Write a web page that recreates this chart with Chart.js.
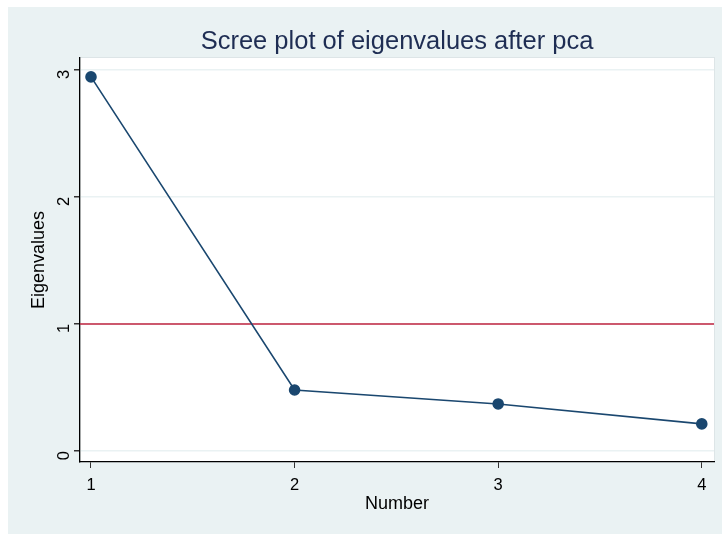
<!DOCTYPE html>
<html>
<head>
<meta charset="utf-8">
<script src="https://cdn.jsdelivr.net/npm/chart.js@4/dist/chart.umd.min.js"></script>
<style>
  html, body { margin: 0; padding: 0; background: #ffffff; }
  canvas { display: block; }
</style>
</head>
<body>
<canvas id="myChart" width="722" height="537"></canvas>
<script>
// data
var components = [1, 2, 3, 4];
var eigenvalues = [2.945, 0.48, 0.37, 0.213];
var xTicks = [1, 2, 3, 4];
var yTicks = [0, 1, 2, 3];
var refLine = 1;
var chartTitle = 'Scree plot of eigenvalues after pca';

var navy = '#1a476f';
var gridColor = '#eaf2f3';

// background: outer blue-gray box, white plot region
var backgroundPlugin = {
    id: 'bg',
    beforeDraw: function(chart) {
        var ctx = chart.ctx;
        var a = chart.chartArea;
        ctx.save();
        ctx.fillStyle = '#ffffff';
        ctx.fillRect(0, 0, chart.width, chart.height);
        ctx.fillStyle = '#eaf2f3';
        ctx.fillRect(8, 7, chart.width - 8, chart.height - 10);
        ctx.fillStyle = '#ffffff';
        ctx.fillRect(a.left, a.top, a.right - a.left, a.bottom - a.top);
        ctx.strokeStyle = '#dde5e7';
        ctx.lineWidth = 1;
        ctx.strokeRect(a.left, a.top - 0.5, a.right - a.left + 0.5, a.bottom - a.top);
        ctx.restore();
    },
    // title centred over the plot region, like Stata does
    afterDraw: function(chart) {
        var ctx = chart.ctx;
        var a = chart.chartArea;
        ctx.save();
        ctx.fillStyle = '#1e2d53';
        ctx.font = '25.5px "Liberation Sans"';
        ctx.textAlign = 'center';
        ctx.textBaseline = 'middle';
        ctx.fillText(chartTitle, (a.left + a.right) / 2, 42);
        ctx.restore();
    }
};

// horizontal reference line at eigenvalue = 1
var refLinePlugin = {
    id: 'refline',
    beforeDatasetsDraw: function(chart) {
        var ctx = chart.ctx;
        var a = chart.chartArea;
        var y = chart.scales.y.getPixelForValue(refLine);
        ctx.save();
        ctx.strokeStyle = '#c1243f';
        ctx.lineWidth = 1.6;
        ctx.beginPath();
        ctx.moveTo(a.left, y);
        ctx.lineTo(a.right, y);
        ctx.stroke();
        ctx.restore();
    }
};

var points = [];
for (var i = 0; i < components.length; i++) {
    points.push({ x: components[i], y: eigenvalues[i] });
}

var ctx = document.getElementById('myChart').getContext('2d');
var myChart = new Chart(ctx, {
    type: 'line',
    data: {
        datasets: [{
            label: 'Eigenvalues',
            data: points,
            borderColor: navy,
            backgroundColor: navy,
            borderWidth: 1.6,
            pointRadius: 5,
            pointBackgroundColor: navy,
            pointBorderColor: navy,
            tension: 0
        }]
    },
    options: {
        responsive: false,
        animation: false,
        layout: { padding: { left: 0, right: 8, top: 58, bottom: 0 } },
        plugins: {
            legend: { display: false },
            tooltip: { enabled: false },
            title: { display: false }
        },
        scales: {
            x: {
                type: 'linear',
                min: 0.946,
                max: 4.06,
                afterBuildTicks: function(scale) {
                    scale.ticks = xTicks.map(function(v) { return { value: v }; });
                },
                afterFit: function(scale) { scale.height = 75; },
                grid: {
                    drawOnChartArea: false,
                    drawTicks: true,
                    tickLength: 6,
                    tickColor: '#333333'
                },
                border: { color: '#000000', width: 1.3 },
                ticks: {
                    color: '#000000',
                    font: { family: 'Liberation Sans', size: 16.5 },
                    padding: 8,
                    maxRotation: 0
                },
                title: {
                    display: true,
                    text: 'Number',
                    color: '#000000',
                    font: { family: 'Liberation Sans', size: 18 },
                    padding: { top: 0, bottom: 22 }
                }
            },
            y: {
                type: 'linear',
                min: -0.087,
                max: 3.094,
                afterBuildTicks: function(scale) {
                    scale.ticks = yTicks.map(function(v) { return { value: v }; });
                },
                afterFit: function(scale) { scale.width = 80; },
                grid: {
                    color: gridColor,
                    lineWidth: 1.5,
                    drawTicks: true,
                    tickLength: 6,
                    tickColor: '#333333'
                },
                border: { color: '#000000', width: 1.3 },
                ticks: {
                    color: '#000000',
                    font: { family: 'Liberation Sans', size: 16.5 },
                    minRotation: 90,
                    maxRotation: 90,
                    padding: 10
                },
                title: {
                    display: true,
                    text: 'Eigenvalues',
                    color: '#000000',
                    font: { family: 'Liberation Sans', size: 18 },
                    padding: { top: 28, bottom: 0 }
                }
            }
        }
    },
    plugins: [backgroundPlugin, refLinePlugin]
});
</script>
</body>
</html>
